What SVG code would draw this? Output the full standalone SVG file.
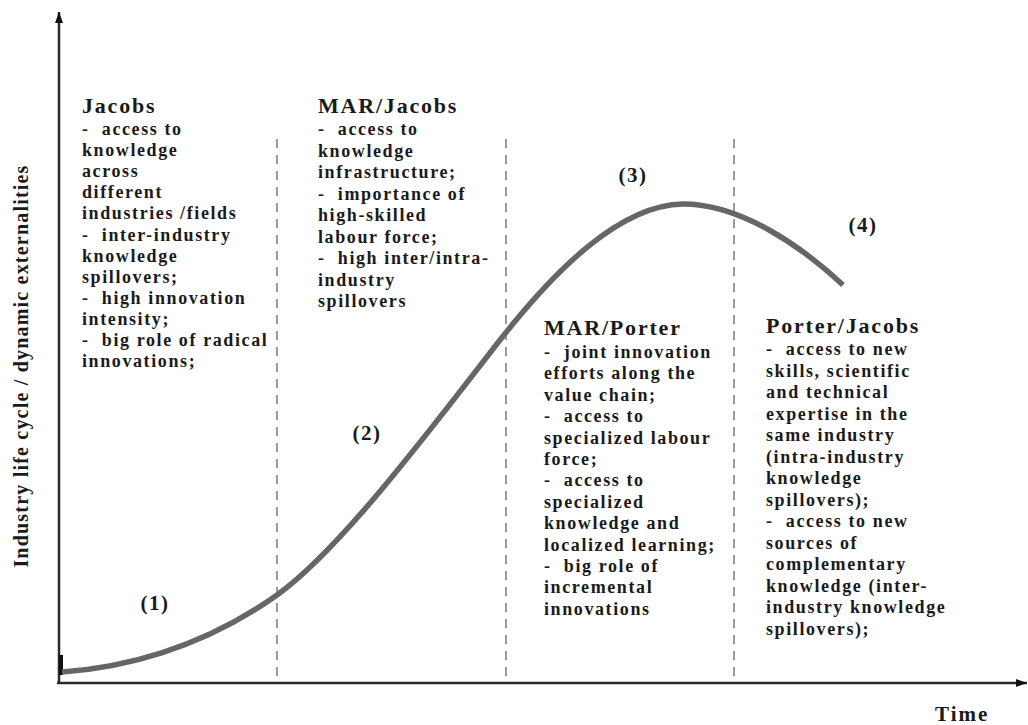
<svg xmlns="http://www.w3.org/2000/svg" width="1028" height="725" viewBox="0 0 1028 725">
<style>
text{font-family:"Liberation Serif","DejaVu Serif",serif;font-weight:700;fill:#1a1a1a;white-space:pre}
.h{font-size:22px;letter-spacing:1.8px}
.b{font-size:18px;letter-spacing:1.6px}
.n{font-size:21px;letter-spacing:1.5px}
.div{stroke:#9a9a9a;stroke-width:2;stroke-dasharray:9 7;fill:none}
.ax{stroke:#2b2b2b;stroke-width:2.5;fill:none}
</style>
<defs>
<marker id="arrow" viewBox="0 0 11 8" refX="11" refY="4" markerWidth="11" markerHeight="8" markerUnits="userSpaceOnUse" orient="auto">
<path d="M0,0 L11,4 L0,8 Z" fill="#111"/>
</marker>
</defs>
<rect width="1028" height="725" fill="#fff"/>
<g id="axes">
<line class="ax" x1="59" y1="684" x2="59" y2="12" marker-end="url(#arrow)"/>
<line class="ax" x1="57" y1="683" x2="1027" y2="683" marker-end="url(#arrow)"/>
<rect x="59" y="655" width="4" height="20" fill="#111"/>
<text font-family="Liberation Serif, serif" font-size="20" letter-spacing="1.2" text-anchor="middle" transform="translate(28,366) rotate(-90)">Industry life cycle / dynamic externalities</text>
<text font-family="Liberation Serif, serif" font-size="21" letter-spacing="2" x="935" y="721">Time</text>
</g>
<g id="dividers">
<line class="div" x1="277" y1="139" x2="277" y2="681"/>
<line class="div" x1="506" y1="139" x2="506" y2="681"/>
<line class="div" x1="734" y1="139" x2="734" y2="681"/>
</g>
<g id="connectors">
<path d="M62,672 C120,668 200,650 277,595 C340,550 430,430 500,340 C555,270 620,205 683,204 C740,204 800,245 843,285" fill="none" stroke="#666" stroke-width="5.5"/>
</g>
<g id="stage-labels">
<text class="n" x="155" y="610" text-anchor="middle">(1)</text>
<text class="n" x="367" y="440" text-anchor="middle">(2)</text>
<text class="n" x="633" y="182" text-anchor="middle">(3)</text>
<text class="n" x="863" y="232" text-anchor="middle">(4)</text>
</g>
<g id="node-jacobs">
<text class="h" x="82" y="113">Jacobs</text>
<text class="b" x="82" y="135"><tspan x="82" dy="0">-  access to</tspan><tspan x="82" dy="21.1">knowledge</tspan><tspan x="82" dy="21.1">across</tspan><tspan x="82" dy="21.1">different</tspan><tspan x="82" dy="21.1">industries /fields</tspan><tspan x="82" dy="21.1">-  inter-industry</tspan><tspan x="82" dy="21.1">knowledge</tspan><tspan x="82" dy="21.1">spillovers;</tspan><tspan x="82" dy="21.1">-  high innovation</tspan><tspan x="82" dy="21.1">intensity;</tspan><tspan x="82" dy="21.1">-  big role of radical</tspan><tspan x="82" dy="21.1">innovations;</tspan></text>
</g>
<g id="node-mar-jacobs">
<text class="h" x="318" y="113">MAR/Jacobs</text>
<text class="b" x="318" y="135"><tspan x="318" dy="0">-  access to</tspan><tspan x="318" dy="21.5">knowledge</tspan><tspan x="318" dy="21.5">infrastructure;</tspan><tspan x="318" dy="21.5">-  importance of</tspan><tspan x="318" dy="21.5">high-skilled</tspan><tspan x="318" dy="21.5">labour force;</tspan><tspan x="318" dy="21.5">-  high inter/intra-</tspan><tspan x="318" dy="21.5">industry</tspan><tspan x="318" dy="21.5">spillovers</tspan></text>
</g>
<g id="node-mar-porter">
<text class="h" x="544" y="335">MAR/Porter</text>
<text class="b" x="544" y="358"><tspan x="544" dy="0">-  joint innovation</tspan><tspan x="544" dy="21.4">efforts along the</tspan><tspan x="544" dy="21.4">value chain;</tspan><tspan x="544" dy="21.4">-  access to</tspan><tspan x="544" dy="21.4">specialized labour</tspan><tspan x="544" dy="21.4">force;</tspan><tspan x="544" dy="21.4">-  access to</tspan><tspan x="544" dy="21.4">specialized</tspan><tspan x="544" dy="21.4">knowledge and</tspan><tspan x="544" dy="21.4">localized learning;</tspan><tspan x="544" dy="21.4">-  big role of</tspan><tspan x="544" dy="21.4">incremental</tspan><tspan x="544" dy="21.4">innovations</tspan></text>
</g>
<g id="node-porter-jacobs">
<text class="h" x="766" y="333">Porter/Jacobs</text>
<text class="b" x="766" y="355"><tspan x="766" dy="0">-  access to new</tspan><tspan x="766" dy="21.5">skills, scientific</tspan><tspan x="766" dy="21.5">and technical</tspan><tspan x="766" dy="21.5">expertise in the</tspan><tspan x="766" dy="21.5">same industry</tspan><tspan x="766" dy="21.5">(intra-industry</tspan><tspan x="766" dy="21.5">knowledge</tspan><tspan x="766" dy="21.5">spillovers);</tspan><tspan x="766" dy="21.5">-  access to new</tspan><tspan x="766" dy="21.5">sources of</tspan><tspan x="766" dy="21.5">complementary</tspan><tspan x="766" dy="21.5">knowledge (inter-</tspan><tspan x="766" dy="21.5">industry knowledge</tspan><tspan x="766" dy="21.5">spillovers);</tspan></text>
</g>
</svg>
